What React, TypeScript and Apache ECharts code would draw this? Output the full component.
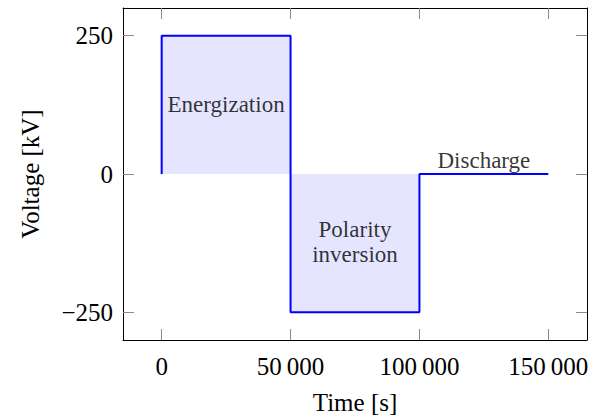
import React, { useEffect, useRef } from "react";
import * as echarts from "echarts";

const timeS = [0, 0, 50000, 50000, 100000, 100000, 150000];
const voltageKV = [0, 250, 250, -250, -250, 0, 0];
const xTicks = [0, 50000, 100000, 150000];
const yTicks = [-250, 0, 250];
const noteNames = ["Energization", "Polarity\ninversion"];
const noteX = [25000, 75000];
const noteY = [125, -122];
const dischargeLabel = "Discharge";
const dischargeX = 125000;
const dischargeY = 0;

const FONT = "Liberation Serif";

function fmtX(v: number) {
  const s = String(Math.abs(v));
  const parts: string[] = [];
  for (let i = s.length; i > 0; i -= 3) parts.unshift(s.slice(Math.max(0, i - 3), i));
  return (v < 0 ? "\u2212" : "") + parts.join("\u2009");
}
function fmtY(v: number) {
  return v < 0 ? "\u2212" + Math.abs(v) : String(v);
}

export default function App() {
  const ref = useRef<HTMLDivElement>(null);
  useEffect(() => {
    if (!ref.current) return;
    const chart = echarts.init(ref.current, undefined, { renderer: "svg" });
    const tickStyle = { show: true, inside: true, length: 11, lineStyle: { color: "#8a8a8a", width: 1 } };
    const axisLineStyle = { show: true, onZero: false, lineStyle: { color: "#000", width: 1 } };
    const labelText = {
      fontFamily: FONT,
      color: "#000",
      textBorderWidth: 0,
      textBorderColor: "transparent",
    };
    chart.setOption({
      animation: false,
      textStyle: { fontFamily: FONT },
      grid: { left: 123, right: 16, top: 8, bottom: 79, containLabel: false },
      xAxis: [
        {
          type: "value",
          min: -15000,
          max: 165000,
          position: "bottom",
          axisLine: axisLineStyle,
          axisTick: { ...tickStyle, customValues: xTicks },
          axisLabel: {
            customValues: xTicks,
            formatter: (v: number) => fmtX(v),
            fontFamily: FONT,
            fontSize: 25,
            color: "#000",
            margin: 14,
          },
          splitLine: { show: false },
          name: "Time [s]",
          nameLocation: "middle",
          nameGap: 50,
          nameTextStyle: { fontFamily: FONT, fontSize: 25, color: "#000" },
        },
        {
          type: "value",
          min: -15000,
          max: 165000,
          position: "top",
          axisLine: axisLineStyle,
          axisTick: { ...tickStyle, customValues: xTicks },
          axisLabel: { show: false },
          splitLine: { show: false },
        },
      ],
      yAxis: [
        {
          type: "value",
          min: -300,
          max: 300,
          position: "left",
          axisLine: axisLineStyle,
          axisTick: { ...tickStyle, customValues: yTicks },
          axisLabel: {
            customValues: yTicks,
            formatter: (v: number) => fmtY(v),
            fontFamily: FONT,
            fontSize: 25,
            color: "#000",
            margin: 10,
          },
          splitLine: { show: false },
          name: "Voltage [kV]",
          nameLocation: "middle",
          nameGap: 80,
          nameRotate: 90,
          nameTextStyle: { fontFamily: FONT, fontSize: 25, color: "#000" },
        },
        {
          type: "value",
          min: -300,
          max: 300,
          position: "right",
          axisLine: axisLineStyle,
          axisTick: { ...tickStyle, customValues: yTicks },
          axisLabel: { show: false },
          splitLine: { show: false },
        },
      ],
      series: [
        {
          type: "line",
          data: timeS.map((t, i) => [t, voltageKV[i]]),
          symbol: "none",
          lineStyle: { color: "#0000ff", width: 2 },
          areaStyle: { color: "rgba(0,0,255,0.1)", origin: 0, opacity: 1 },
          z: 3,
        },
        {
          type: "scatter",
          symbolSize: 0,
          data: noteNames.map((n, i) => ({ name: n, value: [noteX[i], noteY[i]] })),
          label: {
            show: true,
            position: "inside",
            formatter: (p: any) => p.name,
            fontSize: 23,
            lineHeight: 25,
            ...labelText,
          },
          z: 4,
        },
        {
          type: "scatter",
          symbolSize: 0,
          data: [{ name: dischargeLabel, value: [dischargeX, dischargeY] }],
          label: {
            show: true,
            position: "top",
            distance: 2,
            formatter: (p: any) => p.name,
            fontSize: 23,
            ...labelText,
          },
          z: 4,
        },
      ],
    });
    return () => chart.dispose();
  }, []);
  return <div ref={ref} style={{ width: 603, height: 420, position: "absolute", left: 0, top: 0 }} />;
}
